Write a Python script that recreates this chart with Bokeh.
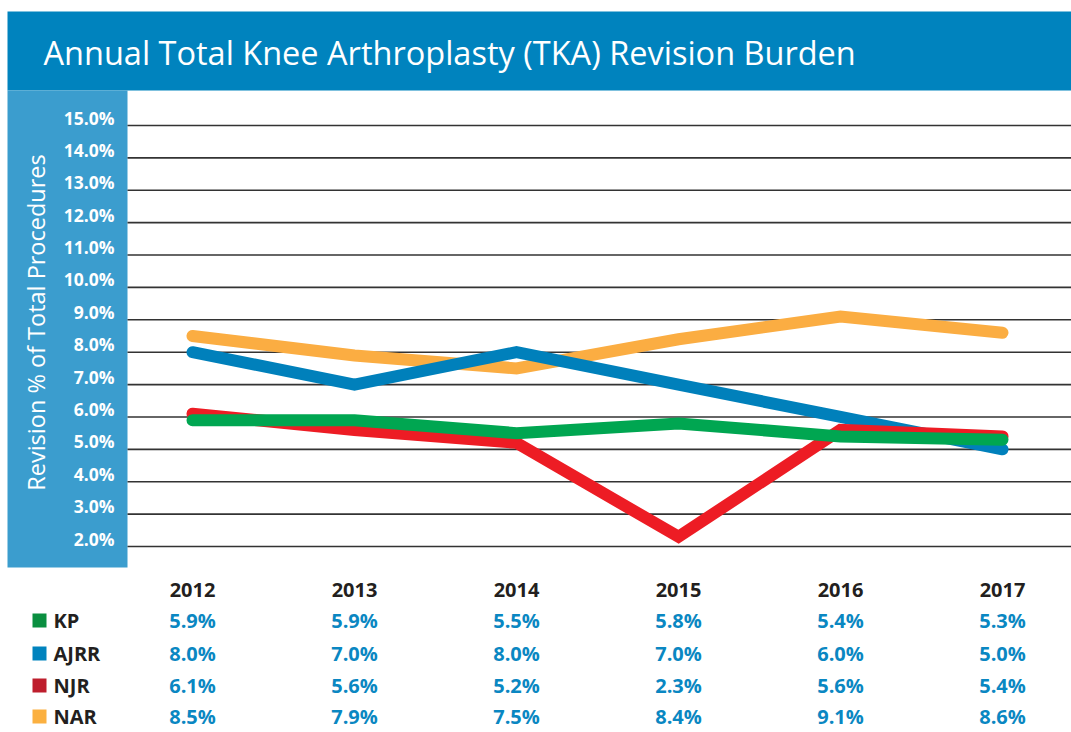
import math
from bokeh.plotting import figure
from bokeh.models import Range1d
from bokeh.core.properties import value
from bokeh.embed import file_html
from bokeh.resources import INLINE

# ---- data ----
years = [2012, 2013, 2014, 2015, 2016, 2017]
kp = [5.9, 5.9, 5.5, 5.8, 5.4, 5.3]
ajrr = [8.0, 7.0, 8.0, 7.0, 6.0, 5.0]
njr = [6.1, 5.6, 5.2, 2.3, 5.6, 5.4]
nar = [8.5, 7.9, 7.5, 8.4, 9.1, 8.6]
series_names = ["KP", "AJRR", "NJR", "NAR"]
y_ticks = [2, 3, 4, 5, 6, 7, 8, 9, 10, 11, 12, 13, 14, 15]
tick_labels = [f"{t:.1f}%" for t in y_ticks]
title_text = "Annual Total Knee Arthroplasty (TKA) Revision Burden"
y_label = "Revision % of Total Procedures"

# ---- layout constants (pixel geometry) ----
W, H = 1071, 732
KY = (546 - 125) / 13.0
Y_END = 15 + 125 / KY
Y_START = 15 - (H - 125) / KY
KX = (1002 - 192) / 5.0
X_START = 2012 - 192 / KX
X_END = 2017 + (W - 1002) / KX


def X(px):
    return X_START + px / KX


def Y(py):
    return Y_END - py / KY


p = figure(width=W, height=H, output_backend="svg", toolbar_location=None,
           x_range=Range1d(X_START, X_END), y_range=Range1d(Y_START, Y_END),
           min_border=0, min_border_left=0, min_border_right=0,
           min_border_top=0, min_border_bottom=0)
p.axis.visible = False
p.grid.visible = False
p.outline_line_color = None
p.background_fill_color = "white"
p.border_fill_color = "white"

font = value("Open Sans")

# title band
p.quad(left=[X(7)], right=[X(1071)], top=[Y(11)], bottom=[Y(90)],
       fill_color="#0083BE", line_color=None)
p.text(x=[X(43)], y=[Y(52)], text=[title_text], text_color="white",
       text_font=font, text_font_style="normal", text_font_size="32.5px",
       text_align="left", text_baseline="middle")

# left panel
p.quad(left=[X(7)], right=[X(127)], top=[Y(90)], bottom=[Y(567)],
       fill_color="#3B9DCE", line_color=None)

# gridlines
p.segment(x0=[X(127)] * len(y_ticks), x1=[X(1071)] * len(y_ticks),
          y0=y_ticks, y1=y_ticks, line_color="#333333", line_width=1.6)

# tick labels
p.text(x=[X(114)] * len(y_ticks), y=[t + 8 / KY for t in y_ticks],
       text=tick_labels, text_color="white", text_font=font,
       text_font_style="bold", text_font_size="17.5px",
       text_align="right", text_baseline="middle")

# axis label
p.text(x=[X(35)], y=[Y(322)], text=[y_label], angle=math.pi / 2,
       text_color="white", text_font=font, text_font_style="normal",
       text_font_size="23.5px", text_align="center", text_baseline="middle")

# lines (bottom to top: NAR, AJRR, NJR, KP)
line_colors = {"KP": "#00A651", "AJRR": "#0080BB", "NJR": "#ED1C24", "NAR": "#FBAD42"}
series = {"KP": kp, "AJRR": ajrr, "NJR": njr, "NAR": nar}
for name in ["NAR", "AJRR", "NJR", "KP"]:
    p.line(years, series[name], line_color=line_colors[name], line_width=12,
           line_cap="round", line_join="miter")

# table header
p.text(x=years, y=[Y(589)] * len(years), text=[str(y) for y in years],
       text_color="#231F20", text_font=font, text_font_style="bold",
       text_font_size="20px", text_align="center", text_baseline="middle")

legend_colors = {"KP": "#0A8F40", "AJRR": "#0083BE", "NJR": "#BE1E2D", "NAR": "#FBB040"}
row_py = [620, 653, 685, 716]
for name, py in zip(series_names, row_py):
    vals = series[name]
    p.text(x=years, y=[Y(py)] * len(years), text=[f"{v:.1f}%" for v in vals],
           text_color="#0A87C2", text_font=font, text_font_style="bold",
           text_font_size="20px", text_align="center", text_baseline="middle")
    p.quad(left=[X(32)], right=[X(46)], top=[Y(py - 7)], bottom=[Y(py + 7)],
           fill_color=legend_colors[name], line_color=None)
    p.text(x=[X(53)], y=[Y(py)], text=[name], text_color="#231F20",
           text_font=font, text_font_style="bold", text_font_size="20px",
           text_align="left", text_baseline="middle")

open("out.html", "w").write(file_html(p, INLINE))
